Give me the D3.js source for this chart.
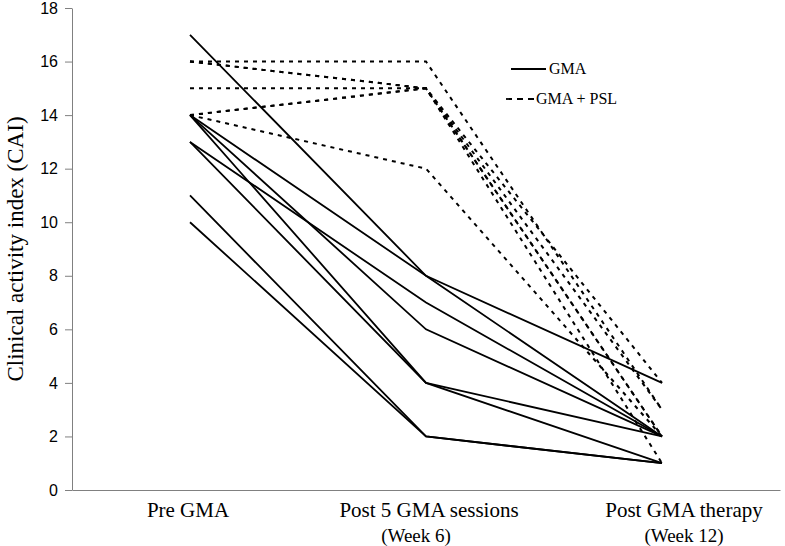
<!DOCTYPE html>
<html>
<head>
<meta charset="utf-8">
<script src="https://cdn.jsdelivr.net/npm/d3@7"></script>
<style>
  body { margin: 0; background: #fff; }
  svg { display: block; }
</style>
</head>
<body>
<div id="chart"></div>
<script>
// categories on the x axis (main label, second line)
const stages = ["Pre GMA", "Post 5 GMA sessions", "Post GMA therapy"];
const stageNotes = ["", "(Week 6)", "(Week 12)"];

// CAI per patient: GMA alone (solid)
const gmaSeries = [
    [17, 8, 2],
    [14, 8, 4],
    [13, 7, 2],
    [14, 6, 2],
    [14, 4, 2],
    [13, 4, 1],
    [11, 2, 1],
    [10, 2, 1]
];

// CAI per patient: GMA + PSL (dashed)
const gmaPslSeries = [
    [16, 16, 3],
    [16, 15, 4],
    [16, 15, 1],
    [15, 15, 2],
    [14, 15, 3],
    [14, 15, 2],
    [14, 12, 2]
];

const yTicks = [0, 2, 4, 6, 8, 10, 12, 14, 16, 18];
const legendLabels = ["GMA", "GMA + PSL"];

let width = 785,
    height = 546;

let svg = d3.select("#chart")
    .append("svg")
    .attr("width", width)
    .attr("height", height);

let x = d3.scaleBand()
    .domain(stages)
    .range([72, 780]);

let y = d3.scaleLinear()
    .domain([0, 18])
    .range([490, 8]);

let cx = d => x(d) + x.bandwidth() / 2;

// y axis
let yAxis = svg.append("g")
    .attr("transform", "translate(72,0)")
    .call(d3.axisLeft(y).tickValues(yTicks).tickSize(7).tickPadding(7).tickSizeOuter(0));
yAxis.select(".domain").attr("stroke", "#808080");
yAxis.selectAll(".tick line").attr("stroke", "#808080");
yAxis.selectAll(".tick text")
    .attr("fill", "#000")
    .style("font-family", "'Liberation Sans', Arial, sans-serif")
    .style("font-size", "16px");

// x axis: plain line, labels added below
let xAxis = svg.append("g")
    .attr("transform", "translate(0,490)")
    .call(d3.axisBottom(x).tickSize(0).tickSizeOuter(0).tickFormat(""));
xAxis.select(".domain").attr("stroke", "#808080");

// the last label sits a little right of its point in the original
let labelShift = [-2, 3, 22];
let noteShift = [0, -10, 22];

xAxis.selectAll(".tick").each(function(d, i) {
    let t = d3.select(this);
    t.append("text")
        .attr("x", labelShift[i])
        .attr("y", 27)
        .attr("text-anchor", "middle")
        .attr("fill", "#000")
        .style("font-family", "'Liberation Serif', 'Times New Roman', serif")
        .style("font-size", "21px")
        .text(d);
    if (stageNotes[i]) {
        t.append("text")
            .attr("x", noteShift[i])
            .attr("y", 52)
            .attr("text-anchor", "middle")
            .attr("fill", "#000")
            .style("font-family", "'Liberation Serif', 'Times New Roman', serif")
            .style("font-size", "19px")
            .text(stageNotes[i]);
    }
});

// y axis title
svg.append("text")
    .attr("transform", `translate(23,${(y(0) + y(18)) / 2}) rotate(-90)`)
    .attr("text-anchor", "middle")
    .style("font-family", "'Liberation Serif', 'Times New Roman', serif")
    .style("font-size", "23px")
    .text("Clinical activity index (CAI)");

let line = d3.line()
    .x((d, i) => cx(stages[i]))
    .y(d => y(d));

svg.append("g")
    .selectAll("path")
    .data(gmaPslSeries)
    .join("path")
    .attr("d", line)
    .attr("fill", "none")
    .attr("stroke", "#000")
    .attr("stroke-width", 2)
    .attr("stroke-dasharray", "4,5");

svg.append("g")
    .selectAll("path")
    .data(gmaSeries)
    .join("path")
    .attr("d", line)
    .attr("fill", "none")
    .attr("stroke", "#000")
    .attr("stroke-width", 1.8);

// legend
let legend = svg.append("g").attr("class", "legend");

legend.append("line")
    .attr("x1", 511).attr("x2", 546)
    .attr("y1", 69).attr("y2", 69)
    .attr("stroke", "#000")
    .attr("stroke-width", 1.8);

legend.append("text")
    .attr("x", 549)
    .attr("y", 74)
    .style("font-family", "'Liberation Serif', 'Times New Roman', serif")
    .style("font-size", "16px")
    .text(legendLabels[0]);

legend.append("line")
    .attr("x1", 506).attr("x2", 539)
    .attr("y1", 99).attr("y2", 99)
    .attr("stroke", "#000")
    .attr("stroke-width", 1.8)
    .attr("stroke-dasharray", "6,5");

legend.append("text")
    .attr("x", 536)
    .attr("y", 104)
    .style("font-family", "'Liberation Serif', 'Times New Roman', serif")
    .style("font-size", "16px")
    .text(legendLabels[1]);
</script>
</body>
</html>
